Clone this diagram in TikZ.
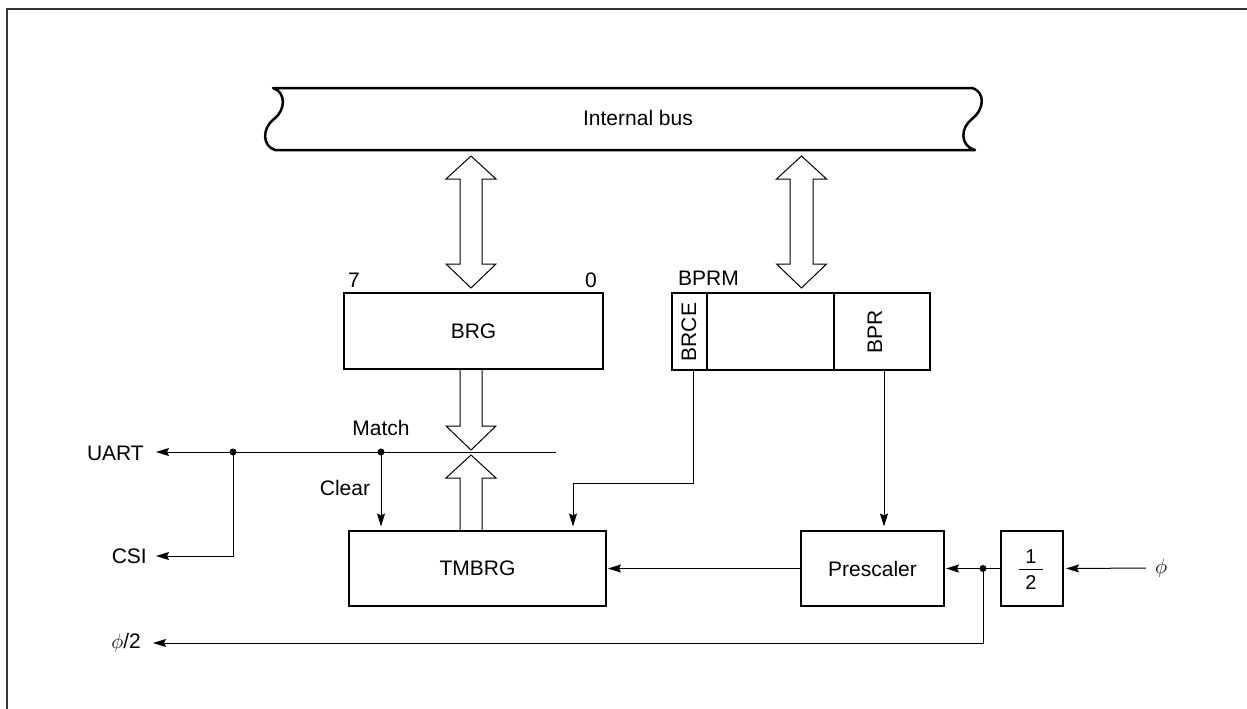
\documentclass[tikz,border=0pt]{standalone}
\usepackage{fontspec}
\setmainfont{Liberation Sans}
\usetikzlibrary{arrows.meta}
\begin{document}
\begin{tikzpicture}[x=1pt,y=-1pt,
  box/.style={draw,line width=2pt,inner sep=0pt,font=\fontsize{21}{25}\selectfont},
  sig/.style={line width=1pt,-{Stealth[length=13pt,width=8pt,inset=2pt]}},
  wire/.style={line width=1pt},
  hollow/.style={line width=1pt,line join=miter},
  lbl/.style={font=\fontsize{21}{25}\selectfont,inner sep=0pt},
  dotn/.style={circle,fill,inner sep=0pt,minimum size=7pt},
]
\useasboundingbox (0,0) rectangle (1247,709);
% frame
\draw[line width=1.5pt,black!80] (7,709) -- (7,9) -- (1247,9);
% internal bus
\draw[line width=2.5pt,line join=round] (273,88) -- (972,88)
  .. controls (986,92) and (984,110) .. (972,119)
  .. controls (960,128) and (960,146) .. (975,150)
  -- (275,150)
  .. controls (262,146) and (262,128) .. (274,119)
  .. controls (286,110) and (286,92) .. (273,88) -- cycle;
\node[lbl] (bus) at (638,118) {Internal bus};
% registers
\node[box,minimum width=259pt,minimum height=76pt] (brg) at (473.5,331) {BRG};
\node[lbl] (b7) at (354,280) {7};
\node[lbl] (b0) at (591,280) {0};
\node[box,minimum width=258pt,minimum height=77pt] (bprm) at (801,331.5) {};
\node[lbl,anchor=west] (bprml) at (678,278) {BPRM};
\draw[line width=1.2pt] (707,293) -- (707,370);
\draw[line width=1.2pt] (834,293) -- (834,370);
\node[lbl,rotate=90] (brce) at (689,332) {BRCE};
\node[lbl,rotate=90] (bpr) at (875,332) {BPR};
\node[box,minimum width=257pt,minimum height=75pt] (tmbrg) at (477.5,568.5) {TMBRG};
\node[box,minimum width=143pt,minimum height=75pt] (presc) at (872.5,568.5) {Prescaler};
\node[box,minimum width=62pt,minimum height=75pt] (half) at (1032,568.5) {};
\node[lbl,font=\fontsize{20}{22}\selectfont] (one) at (1031,557) {1};
\node[lbl,font=\fontsize{20}{22}\selectfont] (two) at (1031,583) {2};
\draw[line width=1pt] (1019,569) -- (1043,569);
% hollow bus arrows
\draw[hollow] (471,156) -- (496,179) -- (482,179) -- (482,264) -- (496,264) -- (471,288)
  -- (446,264) -- (460,264) -- (460,179) -- (446,179) -- cycle;
\draw[hollow] (801.5,156) -- (826.5,179) -- (813,179) -- (813,264) -- (826.5,264) -- (801.5,288)
  -- (776.5,264) -- (790,264) -- (790,179) -- (776.5,179) -- cycle;
\draw[hollow] (460,370) -- (460,426) -- (446,426) -- (471,450) -- (496,426) -- (482,426) -- (482,370);
\draw[hollow] (460,530) -- (460,478) -- (446,478) -- (471,455) -- (496,478) -- (482,478) -- (482,530);
% match line and outputs
\coordinate (mend) at (556,452);
\coordinate (j1) at (233,452);
\coordinate (j2) at (381,452);
\coordinate (j3) at (983,568.5);
\node[lbl,anchor=east] (uart) at (144,453) {UART};
\node[lbl,anchor=east] (csi) at (147,556) {CSI};
\node[lbl,anchor=east] (phihalf) at (141,643) {$\phi$/2};
\node[lbl] (phi) at (1161,568) {$\phi$};
\node[lbl] (match) at (381,428) {Match};
\node[lbl] (clear) at (345,488) {Clear};
\draw[sig,shorten >=12pt] (mend) -- (mend -| uart.east);
\draw[sig,shorten >=9pt] (j1) |- (csi.east);
\draw[sig,shorten >=3.5pt] (j2) -- (j2 |- tmbrg.north);
\node[dotn] at (j1) {};
\node[dotn] at (j2) {};
% control lines
\coordinate (brceo) at (693,370);
\coordinate (brcek) at (573,483);
\draw[sig,shorten >=3.5pt] (brceo) |- (brcek) -- (brcek |- tmbrg.north);
\coordinate (bpro) at (884,370);
\draw[sig,shorten >=3.5pt] (bpro) -- (bpro |- presc.north);
% clock path
\draw[sig,shorten >=1pt] (presc.west) -- (tmbrg.east);
\draw[sig,shorten >=1pt] (half.west) -- (presc.east);
\draw[sig,shorten <=9pt,shorten >=2pt] (phi.west) -- (half.east);
\draw[sig,shorten >=12pt] (j3) |- (phihalf.east);
\node[dotn] at (j3) {};
\end{tikzpicture}
\end{document}
